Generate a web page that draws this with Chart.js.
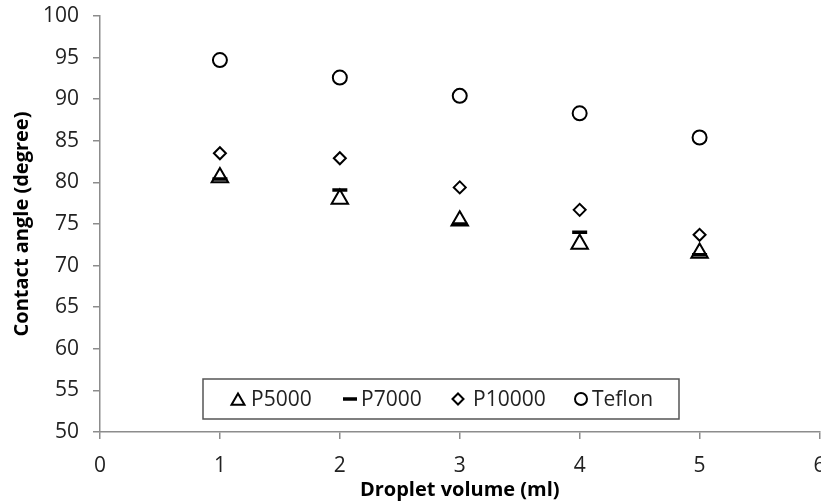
<!DOCTYPE html>
<html>
<head>
<meta charset="utf-8">
<script src="https://cdn.jsdelivr.net/npm/chart.js@4.4.1/dist/chart.umd.min.js"></script>
<style>
  html, body { margin: 0; padding: 0; background: #ffffff; overflow: hidden; width: 821px; height: 504px; }
  #wrap { width: 831px; height: 504px; position: relative; }
  #chart { display: block; }
</style>
</head>
<body>
<div id="wrap"><canvas id="chart"></canvas></div>
<script>
// ---- data ----
const volumes = [1, 2, 3, 4, 5];
const p5000  = [80.6, 78.0, 75.4, 72.6, 71.5];
const p7000  = [80.4, 79.1, 75.0, 74.0, 71.3];
const p10000 = [83.5, 82.9, 79.4, 76.7, 73.7];
const teflon = [94.7, 92.6, 90.4, 88.3, 85.4];
const seriesNames = ['P5000', 'P7000', 'P10000', 'Teflon'];
const xTicks = [0, 1, 2, 3, 4, 5, 6];
const yTicks = [50, 55, 60, 65, 70, 75, 80, 85, 90, 95, 100];
const xTitle = 'Droplet volume (ml)';
const yTitle = 'Contact angle (degree)';

const FONT = "'Open Sans', 'Noto Sans', sans-serif";
const AXIS = '#8c8c8c';
const TXT = '#222222';

function pts(vals) { return volumes.map((v, i) => ({ x: v, y: vals[i] })); }

const styles = [
  { pointStyle: 'triangle', radius: 9.5, borderWidth: 2, bg: '#ffffff', order: 4 },
  { pointStyle: 'line',     radius: 7.5, borderWidth: 3.5, bg: '#000000', order: 3 },
  { pointStyle: 'rectRot',  radius: 6,   borderWidth: 2, bg: '#ffffff', order: 2 },
  { pointStyle: 'circle',   radius: 7,   borderWidth: 2, bg: '#ffffff', order: 1 }
];
const seriesData = [p5000, p7000, p10000, teflon];

const datasets = seriesNames.map((name, i) => ({
  label: name,
  data: pts(seriesData[i]),
  showLine: false,
  pointStyle: styles[i].pointStyle,
  pointRadius: styles[i].radius,
  pointHoverRadius: styles[i].radius,
  pointBorderWidth: styles[i].borderWidth,
  pointBorderColor: '#000000',
  pointBackgroundColor: styles[i].bg,
  order: styles[i].order
}));

// legend box drawn inside plot area
const boxLegend = {
  id: 'boxLegend',
  afterDatasetsDraw(chart) {
    const ctx = chart.ctx;
    const a = chart.chartArea;
    const left = a.left + 103, top = a.bottom - 53, w = 476, h = 40;
    ctx.save();
    ctx.fillStyle = '#ffffff';
    ctx.fillRect(left, top, w, h);
    ctx.strokeStyle = '#555555';
    ctx.lineWidth = 1.5;
    ctx.strokeRect(left, top, w, h);
    const markerX = [35, 147, 255, 378];
    const textX = [48, 158, 270, 389];
    const legendStyles = [
      { pointStyle: 'triangle', radius: 7.5, borderWidth: 2 },
      { pointStyle: 'line', radius: 7, borderWidth: 3.5 },
      { pointStyle: 'rectRot', radius: 5.5, borderWidth: 2 },
      { pointStyle: 'circle', radius: 6, borderWidth: 2 }
    ];
    const cy = top + h / 2;
    ctx.font = '21px ' + FONT;
    ctx.textBaseline = 'middle';
    ctx.textAlign = 'left';
    seriesNames.forEach((name, i) => {
      ctx.strokeStyle = '#000000';
      ctx.fillStyle = styles[i].bg;
      ctx.lineWidth = legendStyles[i].borderWidth;
      const yoff = legendStyles[i].pointStyle === 'triangle' ? 2 : 0;
      Chart.helpers.drawPoint(ctx, {
        pointStyle: legendStyles[i].pointStyle,
        radius: legendStyles[i].radius,
        borderWidth: legendStyles[i].borderWidth,
        rotation: 0
      }, left + markerX[i], cy + yoff);
      ctx.fillStyle = TXT;
      ctx.fillText(name, left + textX[i], cy + 1);
    });
    ctx.restore();
  }
};

new Chart(document.getElementById('chart'), {
  type: 'scatter',
  data: { datasets },
  options: {
    responsive: true,
    maintainAspectRatio: false,
    animation: false,
    events: [],
    layout: { padding: { top: 16, right: 0, left: 0, bottom: 0 } },
    plugins: { legend: { display: false }, tooltip: { enabled: false } },
    scales: {
      x: {
        type: 'linear',
        min: 0, max: 6,
        afterBuildTicks(s) { s.ticks = xTicks.map(v => ({ value: v })); },
        afterFit(s) { s.height = 72; s.paddingLeft = 0; s.paddingRight = 0; },
        border: { display: true, color: AXIS, width: 1.5 },
        grid: { display: true, drawOnChartArea: false, drawTicks: true, tickLength: 7, color: AXIS, lineWidth: 1.5 },
        ticks: { color: TXT, font: { family: FONT, size: 21 }, padding: 14, maxRotation: 0 },
        title: { display: true, text: xTitle, color: '#000000', font: { family: FONT, size: 20, weight: 'bold' }, padding: { top: 2, bottom: 2 } }
      },
      y: {
        type: 'linear',
        min: 50, max: 100,
        afterBuildTicks(s) { s.ticks = yTicks.map(v => ({ value: v })); },
        afterFit(s) { s.width = 100; s.paddingTop = 0; s.paddingBottom = 0; },
        border: { display: true, color: AXIS, width: 1.5 },
        grid: { display: true, drawOnChartArea: false, drawTicks: true, tickLength: 7, color: AXIS, lineWidth: 1.5 },
        ticks: { color: TXT, font: { family: FONT, size: 21 }, padding: 14 },
        title: { display: true, text: yTitle, color: '#000000', font: { family: FONT, size: 20, weight: 'bold' }, padding: { top: 10, bottom: 10 } }
      }
    }
  },
  plugins: [boxLegend]
});
</script>
</body>
</html>
